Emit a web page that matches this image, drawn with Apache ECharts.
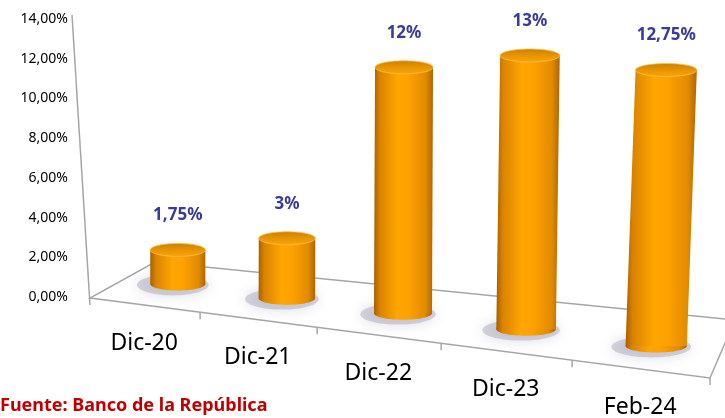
<!DOCTYPE html>
<html>
<head>
<meta charset="utf-8">
<script src="https://cdn.jsdelivr.net/npm/echarts@6/dist/echarts.min.js"></script>
<style>
  html, body { margin: 0; padding: 0; background: #fff; }
  #main { width: 725px; height: 418px; }
</style>
</head>
<body>
<div id="main"></div>
<script>
// datos del gráfico
const categories = ['Dic-20', 'Dic-21', 'Dic-22', 'Dic-23', 'Feb-24'];
const tasas = [1.75, 3, 12, 13, 12.75];
const yTicks = [0, 2, 4, 6, 8, 10, 12, 14];

const FONT = '"Noto Sans", "DejaVu Sans", sans-serif';

// 1,75% / 12%
const fmtPct = v => (v % 1 ? v.toFixed(2).replace('.', ',') : String(v)) + '%';

// ligera perspectiva: las columnas del medio se corren a la izquierda
function warpX(x, x0, x1) {
  return x - 0.000245 * (x - x0) * (x1 - x);
}

// piso en 3D + eje vertical inclinado + etiquetas de categoría
function renderFloor(params, api) {
  const cs = params.coordSys;
  const zero = api.coord([0, 0])[1];
  const top = api.coord([0, yTicks[yTicks.length - 1]])[1];
  const FL = [cs.x - 28, zero + 1];
  const FR = [cs.x + cs.width - 6, zero + 81];
  const BL = [FL[0] + 65, zero - 35];
  const BR = [FR[0] + 25, FR[1] - 58];
  const line = { stroke: '#a6a6a6', lineWidth: 1.5, fill: 'none' };
  const children = [
    { type: 'polyline', shape: { points: [BR, BL, FL, FR, BR] }, style: line },
    { type: 'line', shape: { x1: FL[0] - 18, y1: top - 4, x2: FL[0], y2: zero + 8 }, style: line }
  ];
  const n = categories.length;
  const front = t => {
    const w = t - 0.14 * t * (1 - t);
    return [FL[0] + (FR[0] - FL[0]) * w, FL[1] + (FR[1] - FL[1]) * w];
  };
  for (let k = 1; k <= n; k++) {
    const p = front(k / n);
    children.push({ type: 'line', shape: { x1: p[0], y1: p[1], x2: p[0], y2: p[1] + 7 }, style: line });
  }
  categories.forEach((c, k) => {
    const p = front((k + 0.5) / n);
    children.push({
      type: 'text', x: p[0], y: p[1] + 38,
      style: { text: c, fill: '#000', fontSize: 23, fontFamily: FONT, align: 'center', verticalAlign: 'middle' }
    });
  });
  return { type: 'group', children };
}

// cilindros
function renderBar(params, api) {
  const i = api.value(0), v = api.value(1);
  const n = categories.length;
  const x0 = api.coord([0, 0])[0], x1 = api.coord([n - 1, 0])[0];
  const base = api.coord([i, 0]), head = api.coord([i, v]);
  const cx = warpX(base[0], x0, x1);
  const t = (cx - x0) / (x1 - x0);
  const s = 0.98 + 0.11 * t;
  const by = base[1] - 13 + 62 * t;
  const ty = by - (base[1] - head[1]) * s;
  const rx = api.size([1, 0])[0] * 0.47 * s / 2;
  const ry = 6.5;
  const lean = 10 * t * t * t; // la última columna se inclina un poco

  const body = new echarts.graphic.LinearGradient(0, 0, 1, 0, [
    { offset: 0, color: '#a85f00' },
    { offset: 0.1, color: '#d98300' },
    { offset: 0.4, color: '#ffa600' },
    { offset: 0.6, color: '#fda100' },
    { offset: 0.88, color: '#e08a00' },
    { offset: 1, color: '#b06500' }
  ]);
  const cap = new echarts.graphic.LinearGradient(0, 0, 0, 1, [
    { offset: 0, color: '#c97f00' },
    { offset: 0.5, color: '#e79400' },
    { offset: 1, color: '#f8a610' }
  ]);

  return {
    type: 'group',
    children: [
      {
        type: 'ellipse',
        shape: { cx: cx - 5, cy: by + 1, rx: rx * 1.3, ry: ry * 1.6 },
        style: { fill: 'rgba(140,140,165,0.35)', shadowBlur: 14, shadowColor: 'rgba(120,120,150,0.7)' }
      },
      { type: 'ellipse', shape: { cx: cx, cy: by, rx: rx, ry: ry }, style: { fill: body } },
      {
        type: 'polygon',
        shape: { points: [[cx - rx, by], [cx + rx, by], [cx + rx + lean, ty], [cx - rx + lean, ty]] },
        style: { fill: body }
      },
      { type: 'ellipse', shape: { cx: cx + lean, cy: ty, rx: rx, ry: ry }, style: { fill: cap, stroke: 'rgba(255,190,70,0.8)', lineWidth: 1 } },
      {
        type: 'text', x: cx + lean, y: ty - ry - 28,
        style: { text: fmtPct(v), fill: '#3a3a9a', fontSize: 17, fontWeight: 'bold', fontFamily: FONT, align: 'center', verticalAlign: 'middle' }
      }
    ]
  };
}

const chart = echarts.init(document.getElementById('main'));

const option = {
  animation: false,
  title: {
    text: 'Fuente: Banco de la República',
    left: 0,
    top: 397,
    padding: 0,
    textStyle: { color: '#c00000', fontWeight: 'bold', fontSize: 18, fontFamily: FONT }
  },
  grid: { left: 118, right: 9, top: 19, bottom: 121 },
  xAxis: {
    type: 'category',
    data: categories,
    show: false
  },
  yAxis: {
    type: 'value',
    min: yTicks[0],
    max: yTicks[yTicks.length - 1],
    interval: yTicks[1] - yTicks[0],
    offset: 28,
    axisLine: { show: false },
    axisTick: { show: false },
    splitLine: { show: false },
    axisLabel: {
      margin: 22,
      color: '#000',
      fontSize: 14,
      fontFamily: FONT,
      formatter: v => v.toFixed(2).replace('.', ',') + '%'
    }
  },
  series: [
    {
      type: 'custom',
      z: 1,
      silent: true,
      data: [[0, 0]],
      renderItem: renderFloor
    },
    {
      type: 'custom',
      z: 2,
      silent: true,
      data: tasas.map((v, i) => [i, v]),
      encode: { x: 0, y: 1 },
      renderItem: renderBar
    }
  ]
};

chart.setOption(option);
</script>
</body>
</html>
